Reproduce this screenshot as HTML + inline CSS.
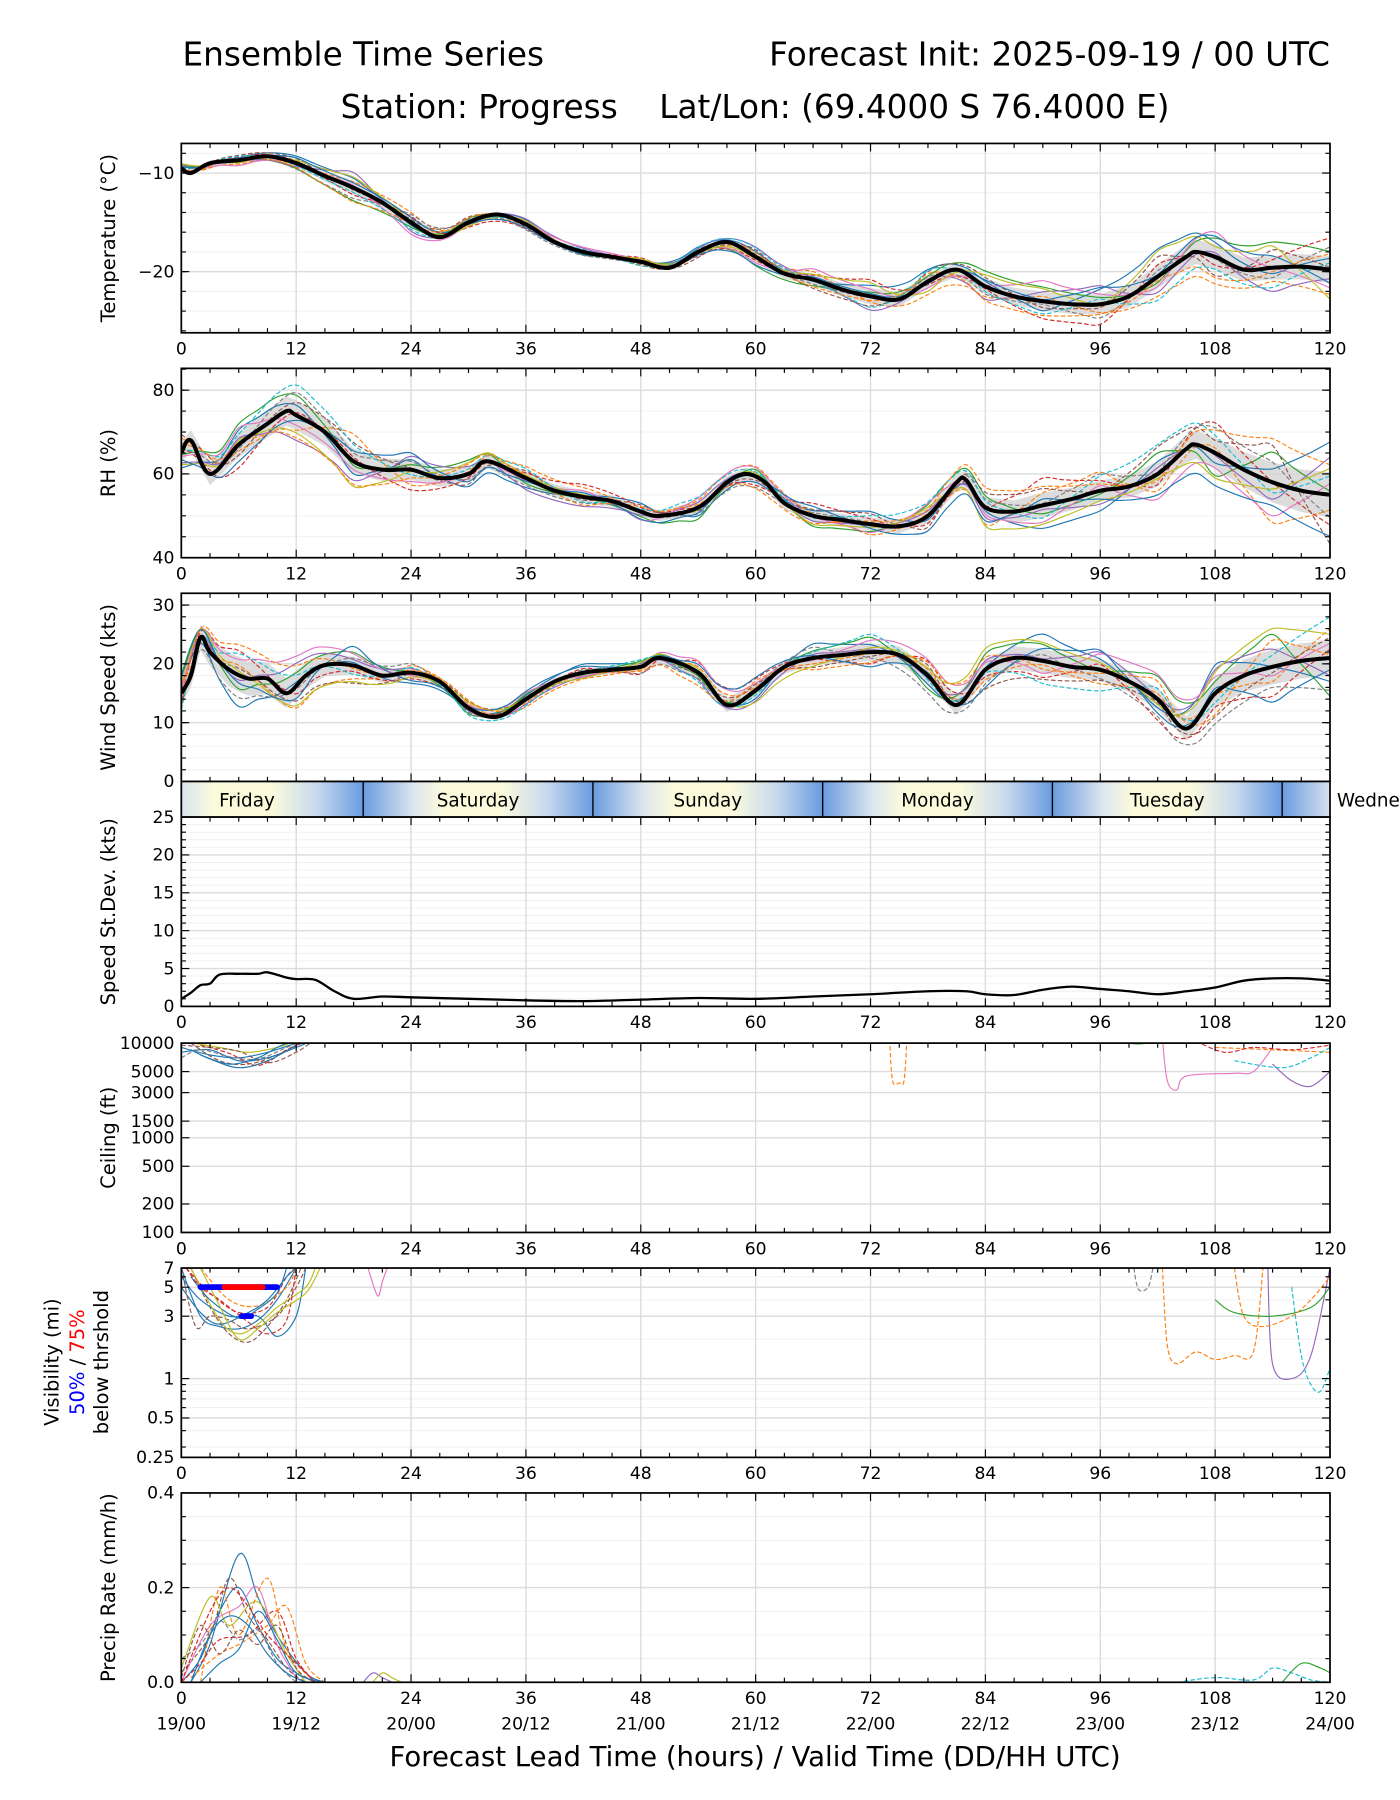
<!DOCTYPE html>
<html><head><meta charset="utf-8"><style>
html,body{margin:0;padding:0;background:#fff}
svg{display:block}
text{font-family:"DejaVu Sans","Liberation Sans",sans-serif;fill:#000}
</style></head><body>
<svg id="chart" xmlns="http://www.w3.org/2000/svg" width="1400" height="1800" viewBox="0 0 1220 1568.57">
<rect width="1220" height="1569" fill="#fff"/>
<text x="159" y="57" font-size="28.5">Ensemble Time Series</text>
<text x="1159" y="57" font-size="28.5" text-anchor="end">Forecast Init: 2025-09-19 / 00 UTC</text>
<text x="658" y="103" font-size="28.5" text-anchor="middle" xml:space="preserve">Station: Progress    Lat/Lon: (69.4000 S 76.4000 E)</text>
<text x="658" y="1539" font-size="24" text-anchor="middle">Forecast Lead Time (hours) / Valid Time (DD/HH UTC)</text>
<g id="root"></g>
</svg>
<script>
const tempHours=[0,1,3,6,9,12,15,18,21,24,27,30,33,36,39,42,45,48,51,54,57,60,63,66,69,72,75,78,81,84,87,90,93,96,99,102,105,106,108,111,114,117,120];
const tempMean=[-9.5,-10,-9,-8.7,-8.3,-9,-10.3,-11.5,-13,-15,-16.5,-15,-14.2,-15.2,-17,-18,-18.5,-19,-19.6,-18,-17,-18.5,-20.2,-20.8,-21.8,-22.5,-22.8,-21,-19.8,-21.5,-22.5,-23,-23.3,-23.3,-22.5,-20.5,-18.5,-18,-18.5,-19.8,-19.6,-19.5,-19.8];
const rhHours=[0,1,3,6,9,11,12,15,18,21,24,27,30,32,36,39,42,45,48,50,54,57,59,61,63,66,69,72,75,78,81,82,84,87,90,93,96,99,102,105,106,108,111,114,117,120];
const rhMean=[65,68,60,67,72,75,74,70,63,61,61,59,60,63,59,56,54.5,53.5,51,50,52,58,60,58,53,50,49,48,47.5,50,58,58.5,52,51,52.5,54,56,57,60,66,67,65,61,58,56,55];
const windHours=[0,1,2,3,5,7,9,11,13,15,18,21,24,27,30,33,36,39,42,45,48,50,54,57,60,63,66,69,72,75,78,81,84,87,90,93,96,99,102,105,108,111,114,117,120];
const windMean=[15,18,24.5,22,19,17.5,17.5,15,18,19.8,19.7,18,18.5,17,12.5,11,14,17,18.5,19,19.5,21,18.5,13,15.5,19.5,21,21.5,22,21.5,18,13,19,21,20.5,19.5,19,17,14,9,15,18,19.5,20.5,21];
const sdHours=[0,1,2,3,4,6,8,9,11,12,14,16,18,21,24,30,36,42,48,54,60,66,72,78,82,84,87,90,93,96,99,102,105,108,111,114,117,120];
const sdValues=[1,1.8,2.8,3,4.2,4.3,4.3,4.5,3.8,3.6,3.5,2,1,1.3,1.2,1.0,0.8,0.7,0.9,1.1,1.0,1.3,1.6,2.0,2.0,1.6,1.5,2.2,2.6,2.3,2.0,1.6,2.0,2.5,3.4,3.7,3.7,3.4];
const memberHours=[0,6,12,18,24,30,36,42,48,54,60,66,72,78,84,90,96,102,108,114,120];
const tempSpread=[0.4,0.5,0.6,1.2,1.0,0.5,0.5,0.4,0.4,0.5,0.9,0.9,1.4,1.1,1.3,1.6,1.7,2.0,2.1,2.0,2.3];
const rhSpread=[4,5,6,5,4,3,2.5,2.5,2,2.5,2.5,2.5,2.5,3,4,5,4,5,6,8,9];
const windSpread=[3,5,4,2.5,1.5,1.2,1.2,1.2,1.2,2,2,2,2.5,2.5,3,3.5,3,3,4,5,5];
const memberZ=[
[0.2,0.5,1.2,0.8,-0.3,0.4,0.9,-0.5,0.3,1.0,0.6,-0.2,0.8,1.1,0.4,-0.6,0.9,1.4,0.7,-0.3,0.5],
[-0.4,-0.8,-0.2,0.5,1.0,-0.6,-0.3,0.4,-0.9,-0.5,0.2,0.9,-0.4,-1.2,-0.8,0.3,-0.5,-1.0,-1.3,-0.7,-1.1],
[0.6,0.1,-0.9,-1.1,-0.5,0.8,0.2,-0.8,0.6,0.3,-1.0,-0.7,0.3,0.5,1.2,0.9,0.4,-0.3,0.9,1.3,0.8],
[-0.9,0.7,0.4,-0.6,0.6,-1.0,-0.9,0.1,1.0,-0.8,-0.4,0.5,1.2,-0.3,-0.2,-1.1,-1.2,0.6,-0.4,0.4,1.4],
[0.9,-0.3,-0.6,1.3,-0.9,0.2,1.1,0.9,-0.2,0.7,1.1,0.2,-1.0,0.2,-1.0,0.6,1.1,-0.8,0.2,-1.2,-0.4],
[-0.1,1.0,0.8,-0.2,0.3,1.1,-0.5,-0.1,-0.6,-1.1,0.8,-1.0,-0.7,0.9,0.7,-0.4,-0.2,1.0,-0.9,0.9,0.1],
[0.4,-1.1,0.1,0.2,-1.2,-0.3,0.5,1.2,0.5,0.1,-0.7,1.2,0.5,-0.6,0.1,1.3,0.6,-0.5,1.2,0.0,-0.8],
[-0.6,0.3,-1.0,-0.9,0.8,0.6,-1.1,-0.9,-0.4,0.5,0.3,-0.5,-0.1,0.4,-0.6,-0.2,-0.8,0.3,-0.1,-0.5,1.0],
[1.1,-0.5,0.5,0.9,0.1,-0.8,0.7,-0.3,0.8,-0.3,-0.2,0.6,1.0,-0.9,0.9,0.8,-0.1,1.3,0.5,1.1,-1.3],
[-0.2,0.8,-0.4,-0.4,-0.7,0.0,-0.2,0.6,-1.0,0.9,1.0,-0.1,-0.8,1.0,-0.4,-0.8,0.3,-1.2,-0.6,-1.0,0.3],
[0.3,-0.2,0.9,0.4,0.5,-0.4,-0.7,-0.6,0.1,-0.6,-0.9,0.3,0.2,-0.2,0.5,0.1,1.0,0.1,1.0,0.6,-0.6],
[-0.7,0.2,-0.7,-1.2,-0.1,0.9,0.3,0.2,-0.1,-0.2,0.5,-0.8,-0.3,0.7,-1.1,-0.9,-0.6,-0.2,-1.0,-0.2,0.7]];
const ceilingMembers=[
[[0,9000],[3,7500],[6,7000],[9,8000],[12,10000]],
[[1,10000],[4,6500],[7,6000],[10,7500],[13,10500]],
[[0,8000],[3,8500],[6,6500],[9,7000],[12,9000],[14,11000]],
[[2,9500],[5,7800],[8,5800],[11,8500],[13,10500]],
[[0,10500],[4,9000],[7,8000],[10,9000],[12,10500]],
[[74,11000],[74.3,4000],[75,3800],[75.5,4000],[75.8,11000]],
[[102.5,11000],[103,4000],[104,3200],[105,4500],[110,4800],[112,5000],[114,9000]],
[[108,9000],[114,8500],[120,8000]],
[[114,6000],[116,4000],[118,3500],[120,5000]],
[[110,6500],[115,5500],[118,7000],[120,9000]],
[[97,10500],[100,9800],[102,10500]],
[[0,7000],[2,8500],[5,7200],[8,6800],[11,9000],[13,11000]],
[[1,8500],[3,6800],[6,5500],[9,6500],[12,9500]],
[[0,9500],[3,9000],[6,8200],[9,6200],[12,8000],[14,11000]],
[[2,7500],[5,6000],[8,7000],[10,9000],[12,11000]],
[[106,10500],[109,8000],[112,9000],[116,8500],[120,9500]]];
const visMembers=[
[[0,7],[2,3],[4,2.5],[6,2.4],[8,2.8],[10,4],[12,7]],
[[1,7],[3,3.5],[5,2.2],[7,1.9],[9,2.5],[11,4],[12.5,7]],
[[0,6],[2,4],[5,3],[8,3],[10,2.1],[12,3],[13,7]],
[[0.5,7],[3,4.5],[6,3.2],[9,3.5],[11,6],[12,7]],
[[1,7],[4,2.8],[6,2.2],[8,2.6],[10,3.5],[13,5],[14,7]],
[[2,7],[5,4],[8,3.6],[11,5],[12,7]],
[[19.5,7],[20.5,4.3],[21,5.5],[21.5,7]],
[[102.5,7],[103,1.8],[104,1.3],[106,1.6],[108,1.4],[110,1.5],[112,1.6],[113,7]],
[[113.5,7],[114,1.3],[116,1.0],[118,1.5],[120,7]],
[[116,5],[117,1.5],[118,0.9],[119,0.8],[120,1.2]],
[[108,4],[110,3.2],[114,3.0],[118,3.5],[120,5]],
[[99.5,7],[100,4.8],[101,5],[101.5,7]],
[[0,5],[2,3.2],[4,2.6],[7,3.2],[9,4],[11,6],[12,7]],
[[0,7],[1.5,2.5],[3,3],[5,2.8],[7,2.4],[10,3],[12,5],[13,7]],
[[1,6],[3,4],[6,2.9],[8,3.4],[10,4.5],[11,7]],
[[0.5,7],[2,5],[4,4],[7,2.7],[9,2.2],[11,2.8],[12,7]],
[[2,7],[4,3.6],[6,2.0],[8,2.4],[10,3.2],[13,4.5],[14.5,7]],
[[110,7],[111,3],[113,2.5],[116,3],[118,4],[120,6]]];
const precipMembers=[
[[0,0],[2,0.05],[4,0.15],[6,0.2],[8,0.12],[10,0.05],[12,0.02],[14,0]],
[[0,0.02],[3,0.1],[5,0.22],[7,0.14],[9,0.09],[11,0.03],[13,0]],
[[1,0],[3,0.08],[6,0.27],[8,0.18],[10,0.1],[13,0.02],[15,0]],
[[0,0],[2,0.04],[4,0.09],[7,0.1],[10,0.15],[12,0.05],[14,0]],
[[0,0.03],[3,0.18],[5,0.12],[8,0.17],[11,0.06],[13,0]],
[[1,0.01],[4,0.06],[6,0.08],[9,0.12],[11,0.16],[13,0.04],[15,0]],
[[0,0],[3,0.12],[6,0.16],[8,0.2],[10,0.08],[12,0.01]],
[[2,0],[4,0.2],[6,0.1],[9,0.22],[11,0.07],[14,0]],
[[19,0],[20,0.02],[21,0.01],[22,0]],
[[104,0],[108,0.01],[112,0.005],[114,0.03],[116,0.02],[118,0.005],[120,0]],
[[115,0],[117,0.04],[119,0.03],[120,0.02]],
[[0,0.05],[2,0.08],[4,0.13],[6,0.09],[8,0.11],[10,0.04],[12,0]],
[[1,0],[3,0.1],[5,0.14],[7,0.12],[9,0.06],[11,0.02],[13,0]],
[[0,0.01],[2,0.12],[4,0.06],[6,0.11],[8,0.08],[10,0.12],[12,0.03],[14,0]],
[[2,0],[4,0.04],[6,0.07],[8,0.15],[10,0.09],[12,0.02],[15,0]],
[[0,0],[3,0.15],[5,0.2],[7,0.16],[9,0.1],[12,0.04],[14,0]],
[[20,0],[21,0.02],[22,0.01],[23,0]]];
const dayNames=["Friday","Saturday","Sunday","Monday","Tuesday","Wedne"];
const dayStarts=[-5,19,43,67,91,115];
const xTickHours=[0,12,24,36,48,60,72,84,96,108,120];
const dateLabels=["19/00","19/12","20/00","20/12","21/00","21/12","22/00","22/12","23/00","23/12","24/00"];

const NS="http://www.w3.org/2000/svg";
const root=document.getElementById('root');
const X0=158,X1=1159;
const X=h=>X0+(h/120)*(X1-X0);
const colors=["#1f77b4","#ff7f0e","#2ca02c","#d62728","#9467bd","#8c564b","#e377c2","#7f7f7f","#bcbd22","#17becf","#1f77b4","#ff7f0e"];
function el(tag,attrs,parent){const e=document.createElementNS(NS,tag);for(const k in attrs)e.setAttribute(k,attrs[k]);(parent||root).appendChild(e);return e;}
function smooth(p){if(p.length<2)return"";let d="M"+p[0][0].toFixed(1)+","+p[0][1].toFixed(1);for(let i=0;i<p.length-1;i++){const a=p[i-1]||p[i],b=p[i],c=p[i+1],e=p[i+2]||c;const c1x=b[0]+(c[0]-a[0])/6,c1y=b[1]+(c[1]-a[1])/6,c2x=c[0]-(e[0]-b[0])/6,c2y=c[1]-(e[1]-b[1])/6;d+="C"+c1x.toFixed(1)+","+c1y.toFixed(1)+" "+c2x.toFixed(1)+","+c2y.toFixed(1)+" "+c[0].toFixed(1)+","+c[1].toFixed(1);}return d;}
function interp(hs,vs,h){if(h<=hs[0])return vs[0];for(let i=0;i<hs.length-1;i++){if(h<=hs[i+1]){const t=(h-hs[i])/(hs[i+1]-hs[i]);return vs[i]+t*(vs[i+1]-vs[i]);}}return vs[vs.length-1];}
let clipN=0;
function panel(name,top,bot,Y,majors,minors,labels,ylabel,showX){
  const g=el('g',{});
  
  
  minors.forEach(v=>el('line',{x1:X0,x2:X1,y1:Y(v),y2:Y(v),stroke:'#efefef','stroke-width':0.8},g));
  majors.forEach(v=>el('line',{x1:X0,x2:X1,y1:Y(v),y2:Y(v),stroke:'#dcdcdc','stroke-width':1.2},g));
  xTickHours.forEach(h=>el('line',{x1:X(h),x2:X(h),y1:top,y2:bot,stroke:'#dcdcdc','stroke-width':1.2},g));
  const id='clip'+(clipN++);
  const cp=el('clipPath',{id:id},g);el('rect',{x:X0,y:top,width:X1-X0,height:bot-top},cp);
  const data=el('g',{'clip-path':'url(#'+id+')'},g);
  for(let h=0;h<=120;h+=3){const L=h%12==0?7:4;el('line',{x1:X(h),x2:X(h),y1:bot,y2:bot-L,stroke:'#000','stroke-width':1},g);el('line',{x1:X(h),x2:X(h),y1:top,y2:top+L,stroke:'#000','stroke-width':1},g);}
  majors.forEach(v=>{el('line',{x1:X0,x2:X0+7,y1:Y(v),y2:Y(v),stroke:'#000'},g);el('line',{x1:X1,x2:X1-7,y1:Y(v),y2:Y(v),stroke:'#000'},g);});
  minors.forEach(v=>{el('line',{x1:X0,x2:X0+4,y1:Y(v),y2:Y(v),stroke:'#000'},g);el('line',{x1:X1,x2:X1-4,y1:Y(v),y2:Y(v),stroke:'#000'},g);});
  majors.forEach((v,i)=>{const t=el('text',{x:X0-6,y:Y(v)+5,'font-size':15,'text-anchor':'end'},g);t.textContent=labels[i];});
  if(showX){xTickHours.forEach(h=>{const t=el('text',{x:X(h),y:bot+19,'font-size':15,'text-anchor':'middle'},g);t.textContent=h;});}
  if(ylabel){const t=el('text',{x:0,y:0,'font-size':17,'text-anchor':'middle',transform:'translate(100,'+((top+bot)/2)+') rotate(-90)'},g);t.textContent=ylabel;}
  return {g,data,frame:()=>el('rect',{x:X0,y:top,width:X1-X0,height:bot-top,fill:'none',stroke:'#000','stroke-width':1.5},g)};
}
function range(a,b,s){const r=[];for(let v=a;v<=b+1e-9;v+=s)r.push(+v.toFixed(3));return r;}
function ensemblePanel(name,top,bot,vmin,vmax,majors,minors,labels,ylabel,hours,mean,spread,shift,showX){
  const Y=v=>bot-(v-vmin)/(vmax-vmin)*(bot-top);
  const P=panel(name,top,bot,Y,majors,minors,labels,ylabel,showX);
  const up=[],dn=[];
  for(let h=0;h<=120;h+=1){const m=interp(hours,mean,h),s=interp(memberHours,spread,h);up.push([X(h),Y(m+s*0.6)]);dn.push([X(h),Y(m-s*0.6)]);}
  const band=el('path',{d:'M'+up.map(p=>p.join(',')).join('L')+'L'+dn.reverse().map(p=>p.join(',')).join('L')+'Z',fill:'#d3d3d3',opacity:0.8},P.data);
  
  memberZ.forEach((z,k)=>{
    const zz=memberZ[(k+shift)%memberZ.length];
    const fine=[];
    for(let h=0;h<=120;h+=2){const base=interp(hours,mean,h);const off=interp(memberHours,memberHours.map((hh,i)=>spread[i]*zz[i]),h);fine.push([X(h),Y(base+off)]);}
    const p=el('path',{d:smooth(fine),fill:'none',stroke:colors[k],'stroke-width':1,'stroke-dasharray':k%2?'4,2':''},P.data);
    
  });
  const mp=el('path',{d:smooth(hours.map((h,i)=>[X(h),Y(mean[i])])),fill:'none',stroke:'#000','stroke-width':3.5},P.data);
  
  P.frame();
}
ensemblePanel('temperature',125,290,-26.2,-7,[-10,-20],range(-26,-8,2),['−10','−20'],'Temperature (°C)',tempHours,tempMean,tempSpread,0,true);
ensemblePanel('rh',321,486,40,85.2,[40,60,80],range(45,85,5),['40','60','80'],'RH (%)',rhHours,rhMean,rhSpread,3,true);
ensemblePanel('wind-speed',517,681,0,32,[0,10,20,30],range(2,30,2),['0','10','20','30'],'Wind Speed (kts)',windHours,windMean,windSpread,6,false);

(function(){
  const g=el('g',{});
  const defs=el('defs',{},g);
  const lg=el('linearGradient',{id:'dayGrad',x1:0,x2:1,y1:0,y2:0},defs);
  [['0','#6a9be0'],['0.22','#dde6ee'],['0.35','#fbfbdc'],['0.6','#fbfbdc'],['0.8','#c8d9ee'],['1','#6a9be0']].forEach(s=>el('stop',{offset:s[0],'stop-color':s[1]},lg));
  const cp=el('clipPath',{id:'dayclip'},g);el('rect',{x:X0,y:681,width:X1-X0,height:31},cp);
  const inner=el('g',{'clip-path':'url(#dayclip)'},g);
  dayStarts.forEach((s,i)=>{el('rect',{x:X(s),y:681,width:X(s+24)-X(s),height:31,fill:'url(#dayGrad)'},inner);
    if(s>0)el('line',{x1:X(s),x2:X(s),y1:681,y2:712,stroke:'#000','stroke-width':1.2},g);
    const cx=i==5?1165:(X(Math.max(s,0))+X(Math.min(s+24,120)))/2+(i==0?-22:0);
    const t=el('text',{x:cx,y:703,'font-size':16,'text-anchor':i==5?'start':'middle'},g);t.textContent=dayNames[i];
    });
  el('rect',{x:X0,y:681,width:X1-X0,height:31,fill:'none',stroke:'#000','stroke-width':1.5},g);
})();

(function(){
  const top=712,bot=877,Y=v=>bot-v/25*(bot-top);
  const P=panel('speed-stdev',top,bot,Y,[0,5,10,15,20,25],range(1,24,1).filter(v=>v%5),['0','5','10','15','20','25'],'Speed St.Dev. (kts)',true);
  const p=el('path',{d:smooth(sdHours.map((h,i)=>[X(h),Y(sdValues[i])])),fill:'none',stroke:'#000','stroke-width':2},P.data);
  
  P.frame();
})();
function memberPanel(name,top,bot,Y,majors,labels,ylabel,members,minors){
  const P=panel(name,top,bot,Y,majors,minors||[],labels,ylabel,true);
  members.forEach((m,k)=>{const p=el('path',{d:smooth(m.map(q=>[X(q[0]),Y(q[1])])),fill:'none',stroke:colors[(k*5)%12],'stroke-width':1,'stroke-dasharray':k%2?'4,2':''},P.data);
    });
  return P;
}
const ceilP=memberPanel('ceiling',909,1074,v=>1074-(Math.log10(v)-2)/2*165,[100,200,500,1000,1500,3000,5000,10000],['100','200','500','1000','1500','3000','5000','10000'],'Ceiling (ft)',ceilingMembers);
ceilP.frame();
const VY=v=>1270-Math.log(v/0.25)/Math.log(28)*165;
const visP=memberPanel('visibility',1105,1270,VY,[0.25,0.5,1,3,5,7],['0.25','0.5','1','3','5','7'],null,visMembers,[0.3,0.4,0.6,0.7,0.8,0.9,2,4,6]);
[[2,10,5,'#0000ff'],[4.5,8.5,5,'#ff0000'],[6.3,7.3,3,'#0000ff']].forEach(s=>{const l=el('line',{x1:X(s[0]),x2:X(s[1]),y1:VY(s[2]),y2:VY(s[2]),stroke:s[3],'stroke-width':5,'stroke-linecap':'round'},visP.data);
  });
visP.frame();
(function(){const g=el('g',{transform:'translate(0,1187) rotate(-90)'});
  let t=el('text',{x:0,y:51,'font-size':17,'text-anchor':'middle'},g);t.textContent='Visibility (mi)';
  t=el('text',{x:0,y:73,'font-size':17,'text-anchor':'middle'},g);t.innerHTML='<tspan fill="#0000ff">50%</tspan> / <tspan fill="#ff0000">75%</tspan>';
  t=el('text',{x:0,y:94,'font-size':17,'text-anchor':'middle'},g);t.textContent='below thrshold';})();
const prP=memberPanel('precip-rate',1301,1466,v=>1466-v/0.4*165,[0,0.2,0.4],['0.0','0.2','0.4'],'Precip Rate (mm/h)',precipMembers,[0.05,0.1,0.15,0.25,0.3,0.35]);
prP.frame();
xTickHours.forEach((h,i)=>{const t=el('text',{x:X(h),y:1507,'font-size':15,'text-anchor':'middle'});t.textContent=dateLabels[i];
  });
</script>
</body></html>
